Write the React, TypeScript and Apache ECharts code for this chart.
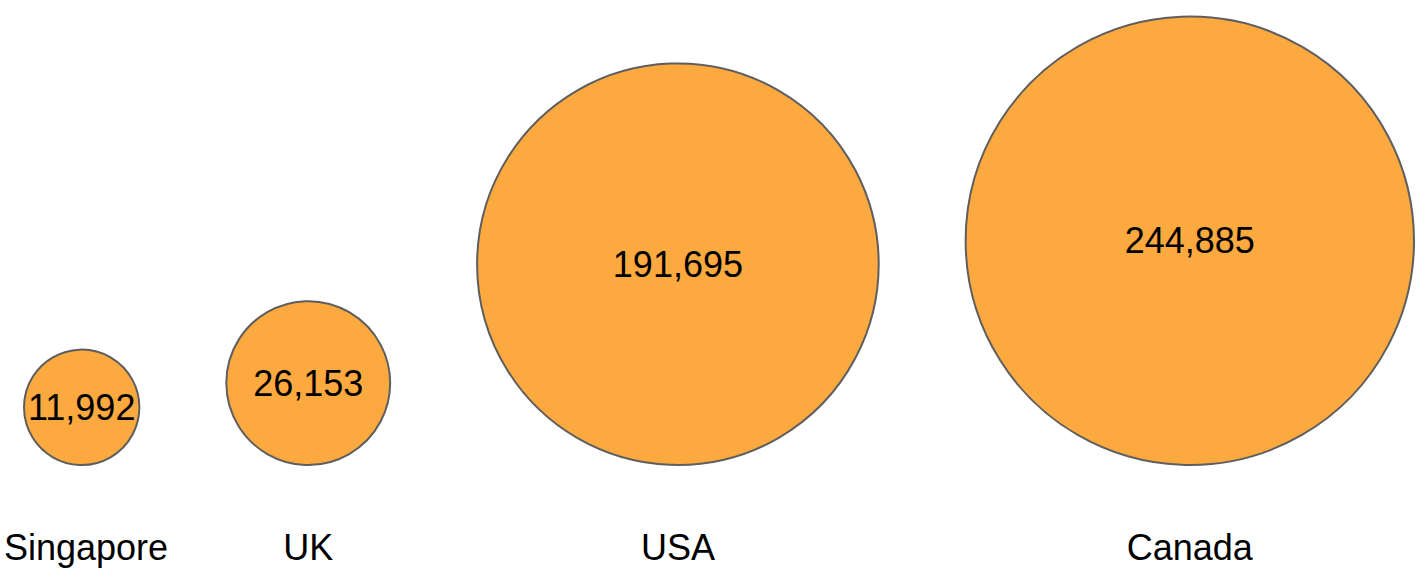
import React, { useEffect, useRef } from "react";
import * as echarts from "echarts";

// ---- data ----
const categories: string[] = ["Singapore", "UK", "USA", "Canada"];
const values: number[] = [11992, 26153, 191695, 244885];

// ---- size scale (radius in px from value) ----
const SIZE_EXP = 0.45;
const SIZE_K = 0.8425;
const radiusOf = (v: number) => SIZE_K * Math.pow(v, SIZE_EXP);

// ---- layout constants ----
const W = 1416;
const H = 568;
const LEFT = 24;
const RIGHT = 1414;
const BASELINE = 465;
const LABEL_Y = 547;
const FONT = '"Liberation Sans", Arial, Helvetica, sans-serif';
const FONT_SIZE = 36;

function measure(text: string): number {
  const c = document.createElement("canvas");
  const ctx = c.getContext("2d");
  if (!ctx) return text.length * FONT_SIZE * 0.5;
  ctx.font = `${FONT_SIZE}px ${FONT}`;
  return ctx.measureText(text).width;
}

export default function App() {
  const ref = useRef<HTMLDivElement>(null);

  useEffect(() => {
    document.body.style.margin = "0";
    if (!ref.current) return;
    const chart = echarts.init(ref.current, undefined, { renderer: "svg" });

    const radii = values.map(radiusOf);
    const totalDiam = radii.reduce((a, r) => a + 2 * r, 0);
    const gap = (RIGHT - LEFT - totalDiam) / (values.length - 1);
    let cursor = LEFT;
    const centers = radii.map((r) => {
      const c = cursor + r;
      cursor = c + r + gap;
      return c;
    });

    const bubbleData = categories.map((name, i) => ({
      name,
      value: [centers[i], BASELINE - radii[i], values[i]],
    }));

    const labelData = categories.map((name, i) => {
      const w = measure(name);
      const x = Math.min(Math.max(centers[i], 4 + w / 2), W - 2 - w / 2);
      return { name, value: [x, LABEL_Y] };
    });

    chart.setOption({
      animation: false,
      tooltip: { show: false },
      grid: { left: 0, right: 0, top: 0, bottom: 0 },
      xAxis: { type: "value", min: 0, max: W, show: false },
      yAxis: { type: "value", min: 0, max: H, inverse: true, show: false },
      series: [
        {
          type: "scatter",
          silent: true,
          data: bubbleData,
          symbol: "circle",
          symbolSize: (val: number[]) => 2 * radiusOf(val[2]),
          itemStyle: {
            color: "#FCA940",
            borderColor: "#5E5E5E",
            borderWidth: 2,
            opacity: 1,
          },
          label: {
            show: true,
            position: "inside",
            formatter: (p: any) => Number(p.value[2]).toLocaleString("en-US"),
            fontSize: FONT_SIZE,
            fontFamily: FONT,
            color: "#000000",
            textBorderWidth: 0,
          },
        },
        {
          type: "scatter",
          silent: true,
          data: labelData,
          symbolSize: 0,
          itemStyle: { color: "#000000", opacity: 1 },
          label: {
            show: true,
            position: "inside",
            formatter: (p: any) => p.name,
            fontSize: FONT_SIZE,
            fontFamily: FONT,
            color: "#000000",
            textBorderWidth: 0,
          },
        },
      ],
    });

    return () => {
      chart.dispose();
    };
  }, []);

  return (
    <div
      ref={ref}
      style={{ width: W, height: H, background: "#ffffff" }}
    />
  );
}
